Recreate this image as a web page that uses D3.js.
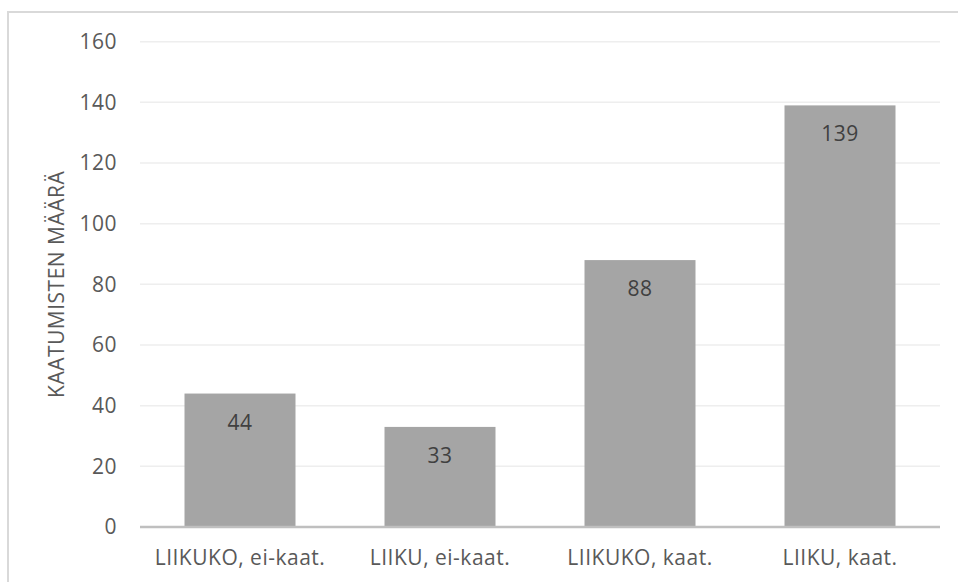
<!DOCTYPE html>
<html>
<head>
<meta charset="utf-8">
<script src="https://cdn.jsdelivr.net/npm/d3@7"></script>
<style>
  body { margin: 0; background: #fff; }
  svg { display: block; font-family: "Open Sans", sans-serif; letter-spacing: 0.5px; }
</style>
</head>
<body>
<div id="chart"></div>
<script>
const categories = ['LIIKUKO, ei-kaat.', 'LIIKU, ei-kaat.', 'LIIKUKO, kaat.', 'LIIKU, kaat.'];
const values = [44, 33, 88, 139];
const yTicks = [0, 20, 40, 60, 80, 100, 120, 140, 160];
const yTitle = 'KAATUMISTEN MÄÄRÄ';

const W = 958, H = 582;
const plot = { left: 140, right: 940, top: 41.7, bottom: 527 };
const fontSize = '21px';

const svg = d3.select('#chart').append('svg')
    .attr('width', W).attr('height', H);

// chart frame (runs off the right and bottom edge)
svg.append('rect')
    .attr('x', 8).attr('y', 12)
    .attr('width', W + 20).attr('height', H + 20)
    .attr('fill', 'none').attr('stroke', '#d9d9d9').attr('stroke-width', 2);

const x = d3.scaleBand()
    .domain(categories)
    .range([plot.left, plot.right])
    .paddingInner(0.445).paddingOuter(0.2225);

const y = d3.scaleLinear()
    .domain([0, 160])
    .range([plot.bottom, plot.top]);

// gridlines
svg.append('g')
    .selectAll('line')
    .data(yTicks.filter(d => d > 0))
    .join('line')
    .attr('x1', plot.left).attr('x2', plot.right)
    .attr('y1', d => y(d)).attr('y2', d => y(d))
    .attr('stroke', '#eeeeee').attr('stroke-width', 1.5);

// y tick labels
const yAxis = svg.append('g')
    .attr('transform', `translate(${plot.left},0)`)
    .call(d3.axisLeft(y).tickValues(yTicks).tickSize(0).tickPadding(23));
yAxis.select('.domain').remove();
yAxis.selectAll('text')
    .style('font-family', '"Open Sans", sans-serif')
    .style('font-size', fontSize)
    .style('fill', '#595959');

// bars
svg.append('g')
    .selectAll('rect')
    .data(values)
    .join('rect')
    .attr('x', (d, i) => x(categories[i]))
    .attr('width', x.bandwidth())
    .attr('y', d => y(d))
    .attr('height', d => y(0) - y(d))
    .attr('fill', '#a5a5a5');

// data labels, inside end
svg.append('g')
    .selectAll('text')
    .data(values)
    .join('text')
    .attr('x', (d, i) => x(categories[i]) + x.bandwidth() / 2)
    .attr('y', d => y(d) + 36)
    .attr('text-anchor', 'middle')
    .style('font-size', fontSize)
    .style('fill', '#404040')
    .text(d => d);

// baseline
svg.append('line')
    .attr('x1', plot.left).attr('x2', plot.right)
    .attr('y1', y(0)).attr('y2', y(0))
    .attr('stroke', '#bfbfbf').attr('stroke-width', 2.5);

// x labels
const xAxis = svg.append('g')
    .attr('transform', `translate(0,${plot.bottom})`)
    .call(d3.axisBottom(x).tickSize(0).tickPadding(23));
xAxis.select('.domain').remove();
xAxis.selectAll('text')
    .style('font-family', '"Open Sans", sans-serif')
    .style('font-size', fontSize)
    .style('fill', '#595959');

// y title
svg.append('text')
    .attr('transform', `translate(64,${(plot.top + plot.bottom) / 2}) rotate(-90)`)
    .attr('text-anchor', 'middle')
    .style('font-size', fontSize)
    .style('fill', '#595959')
    .text(yTitle);
</script>
</body>
</html>
